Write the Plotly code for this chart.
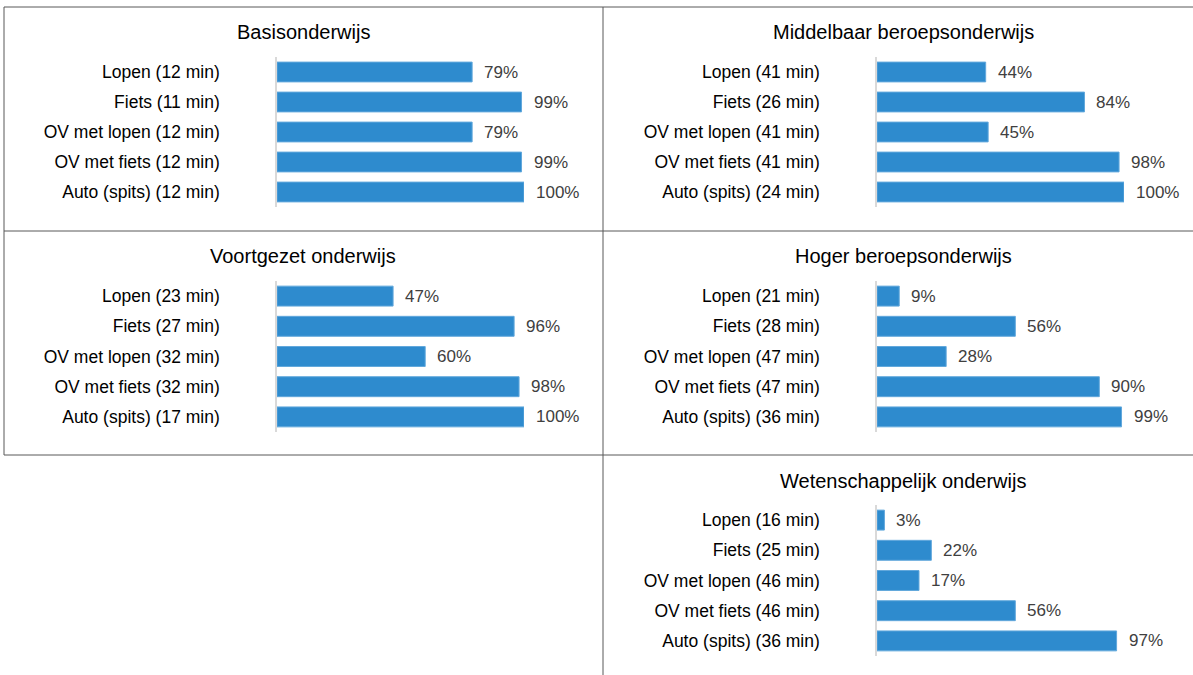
import plotly.graph_objects as go

modes = ["Lopen", "Fiets", "OV met lopen", "OV met fiets", "Auto (spits)"]

titles = ["Basisonderwijs", "Middelbaar beroepsonderwijs", "Voortgezet onderwijs",
          "Hoger beroepsonderwijs", "Wetenschappelijk onderwijs"]

basis_pct = [79, 99, 79, 99, 100]
basis_min = [12, 11, 12, 12, 12]
mbo_pct = [44, 84, 45, 98, 100]
mbo_min = [41, 26, 41, 41, 24]
vo_pct = [47, 96, 60, 98, 100]
vo_min = [23, 27, 32, 32, 17]
hbo_pct = [9, 56, 28, 90, 99]
hbo_min = [21, 28, 47, 47, 36]
wo_pct = [3, 22, 17, 56, 97]
wo_min = [16, 25, 46, 46, 36]

W, H = 1193, 675
BAR = "#2E8BCE"
BAR_EDGE = "#62A8DC"
FONT = "Liberation Sans, Arial, sans-serif"

# panel layout (pixels): (axis_left, axis_right, band_top, band_bottom, title_x, title_y)
panels = [
    (basis_pct, basis_min, 277, 524, 57, 207, 303, 32),
    (mbo_pct, mbo_min, 877, 1124, 57, 207, 903, 32),
    (vo_pct, vo_min, 277, 524, 281, 432, 303, 256),
    (hbo_pct, hbo_min, 877, 1124, 281, 432, 903, 256),
    (wo_pct, wo_min, 877, 1124, 505, 656, 903, 481),
]

fig = go.Figure()
annotations = []
for i, (pct, mins, x0, x1, y0, y1, tx, ty) in enumerate(panels):
    n = i + 1
    xa = "x" if n == 1 else f"x{n}"
    ya = "y" if n == 1 else f"y{n}"
    labels = [f"{m} ({t} min)" for m, t in zip(modes, mins)]
    fig.add_trace(go.Bar(
        x=pct, y=labels, orientation="h",
        marker=dict(color=BAR, line=dict(width=1, color=BAR_EDGE)),
        width=0.66, xaxis=xa, yaxis=ya, showlegend=False, hoverinfo="x+y",
    ))
    for v, lab in zip(pct, labels):
        annotations.append(dict(
            x=v, y=lab, xref=xa, yref=ya, text=f"{v}%", showarrow=False,
            xanchor="left", xshift=10, font=dict(size=17, color="#404040", family=FONT),
        ))
    annotations.append(dict(
        x=tx / W, y=1 - ty / H, xref="paper", yref="paper", text=titles[i],
        showarrow=False, xanchor="center", yanchor="middle",
        font=dict(size=20, color="#000000", family=FONT),
    ))
    xkey = "xaxis" if n == 1 else f"xaxis{n}"
    ykey = "yaxis" if n == 1 else f"yaxis{n}"
    fig.update_layout(**{
        xkey: dict(domain=[x0 / W, x1 / W], range=[0, 100], visible=False,
                   anchor=ya, fixedrange=True),
        ykey: dict(domain=[1 - y1 / H, 1 - y0 / H], anchor=xa, autorange="reversed",
                   type="category", showgrid=False, zeroline=False,
                   showline=True, linecolor="#D9D9D9", linewidth=1.5,
                   ticks="", ticklabelstandoff=52,
                   tickfont=dict(size=17.5, color="#000000", family=FONT)),
    })

def px_line(xa, ya, xb, yb):
    return dict(type="line", xref="paper", yref="paper",
                x0=xa / W, y0=1 - ya / H, x1=xb / W, y1=1 - yb / H,
                line=dict(color="#595959", width=1))

shapes = [
    px_line(4, 7, W, 7),
    px_line(4, 7, 4, 455),
    px_line(4, 231, W, 231),
    px_line(4, 455, W, 455),
    px_line(603, 7, 603, H),
]

fig.update_layout(
    width=W, height=H, margin=dict(l=0, r=0, t=0, b=0),
    paper_bgcolor="white", plot_bgcolor="white",
    annotations=annotations, shapes=shapes, bargap=0.34,
    font=dict(family=FONT),
)

fig.write_html("out.html", config={"displayModeBar": False},
               post_script="document.body.style.margin='0';document.body.style.overflow='hidden';")
